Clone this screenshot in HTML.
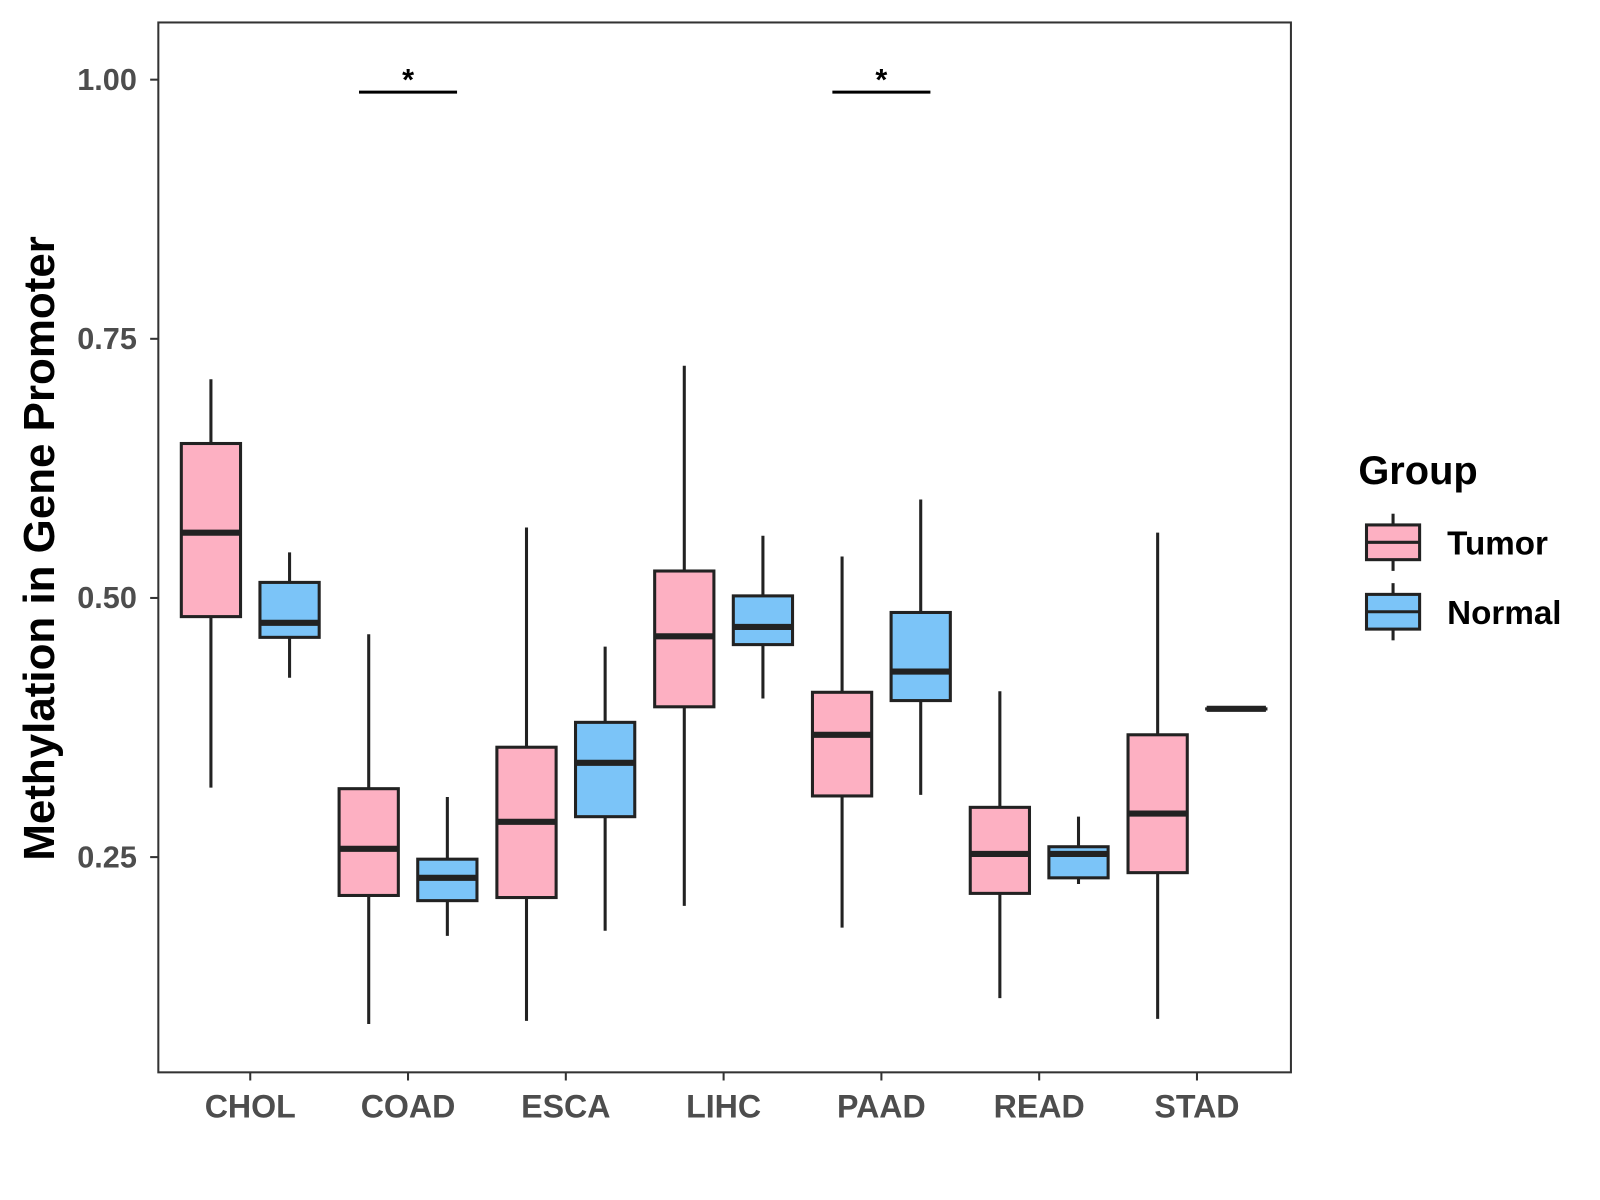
<!DOCTYPE html>
<html><head><meta charset="utf-8"><style>
body{margin:0;background:#fff;}
svg{display:block;font-family:"Liberation Sans",Arial,sans-serif;}
</style></head><body>
<svg id="chart" width="1600" height="1200" viewBox="0 0 1566.6 1175">
<rect x="0" y="0" width="1600" height="1200" fill="#fff"/>
<g id="plot"></g>
</svg>
<script>
const categories=["CHOL","COAD","ESCA","LIHC","PAAD","READ","STAD"];
// [low, q1, median, q3, high]
const tumorStats=[[0.317,0.482,0.563,0.649,0.711],[0.089,0.213,0.258,0.316,0.465],[0.092,0.211,0.284,0.356,0.568],[0.203,0.395,0.463,0.526,0.724],[0.182,0.309,0.368,0.409,0.540],[0.114,0.215,0.253,0.298,0.410],[0.094,0.235,0.292,0.368,0.563]];
const normalStats=[[0.423,0.462,0.476,0.515,0.544],[0.174,0.208,0.230,0.248,0.308],[0.179,0.289,0.341,0.380,0.453],[0.403,0.455,0.472,0.502,0.560],[0.310,0.401,0.429,0.486,0.595],[0.224,0.230,0.253,0.260,0.289],[0.393,0.393,0.393,0.393,0.393]];
const yTicks=[0.25,0.50,0.75,1.00];
const yTickLabels=["0.25","0.50","0.75","1.00"];
const sigCategories=["COAD","PAAD"];
const sigValue=0.988;

const NS="http://www.w3.org/2000/svg";
const g=document.getElementById("plot");
const L=155,R=1264,T=22,B=1050;
const y=v=>78+(1-v)*1015;
const x=i=>245+i*154.5;
function el(tag,attrs,parent){const e=document.createElementNS(NS,tag);for(const k in attrs)e.setAttribute(k,attrs[k]);(parent||g).appendChild(e);return e;}

yTicks.forEach((v,i)=>{
  const t=el("line",{x1:L-8,x2:L,y1:y(v),y2:y(v),stroke:"#333","stroke-width":2});
  
  
  const lb=el("text",{x:L-21,y:y(v)+10,"text-anchor":"end","font-size":30,"font-weight":"bold",fill:"#4d4d4d"});
  lb.textContent=yTickLabels[i];
  
  
});
categories.forEach((c,i)=>{
  const t=el("line",{x1:x(i),x2:x(i),y1:B,y2:B+8,stroke:"#333","stroke-width":2});
  
  
  const lb=el("text",{x:x(i),y:B+44,"text-anchor":"middle","font-size":31.5,"font-weight":"bold",fill:"#4d4d4d"});
  lb.textContent=c;
  
  
});
function box(cx,s,fill,name){
  const grp=el("g",{});
  
  
  el("line",{x1:cx,x2:cx,y1:y(s[4]),y2:y(s[0]),stroke:"#222","stroke-width":3},grp);
  el("rect",{x:cx-29,y:y(s[3]),width:58,height:Math.max(0.1,y(s[1])-y(s[3])),fill:fill,stroke:"#222","stroke-width":3},grp);
  el("line",{x1:cx-29,x2:cx+29,y1:y(s[2]),y2:y(s[2]),stroke:"#222","stroke-width":6},grp);
}
categories.forEach((c,i)=>{
  box(x(i)-38.5,tumorStats[i],"#FDB0C2","tumor-box-"+c.toLowerCase());
  box(x(i)+38.5,normalStats[i],"#7BC4F8","normal-box-"+c.toLowerCase());
});
sigCategories.forEach(c=>{
  const i=categories.indexOf(c);
  const ln=el("line",{x1:x(i)-48,x2:x(i)+48,y1:y(sigValue),y2:y(sigValue),stroke:"#000","stroke-width":3});
  
  
  const st=el("text",{x:x(i),y:y(sigValue)-2,"text-anchor":"middle","font-size":30,"font-weight":"bold"});
  st.textContent="*";
  
  
});
const fr=el("rect",{x:L,y:T,width:R-L,height:B-T,fill:"none",stroke:"#333","stroke-width":2});


</script>
<svg style="position:absolute;left:0;top:0" width="1600" height="1200" viewBox="0 0 1566.6 1175">
<text x="53" y="537" transform="rotate(-90 53 537)" text-anchor="middle" font-size="43" font-weight="bold" font-family="Liberation Sans, Arial, sans-serif">Methylation in Gene Promoter</text>
<text x="1330" y="474" font-size="39" font-weight="bold" font-family="Liberation Sans, Arial, sans-serif">Group</text>
<g>
<line x1="1364" x2="1364" y1="503" y2="559" stroke="#222" stroke-width="3"/>
<rect x="1338" y="514" width="52" height="34" fill="#FDB0C2" stroke="#222" stroke-width="3"/>
<line x1="1338" x2="1390" y1="531" y2="531" stroke="#222" stroke-width="3"/>
<text x="1417" y="543" font-size="32.5" font-weight="bold" font-family="Liberation Sans, Arial, sans-serif">Tumor</text>
</g>
<g>
<line x1="1364" x2="1364" y1="571" y2="627" stroke="#222" stroke-width="3"/>
<rect x="1338" y="582" width="52" height="34" fill="#7BC4F8" stroke="#222" stroke-width="3"/>
<line x1="1338" x2="1390" y1="599" y2="599" stroke="#222" stroke-width="3"/>
<text x="1417" y="611" font-size="32.5" font-weight="bold" font-family="Liberation Sans, Arial, sans-serif">Normal</text>
</g>
</svg>
</body></html>
